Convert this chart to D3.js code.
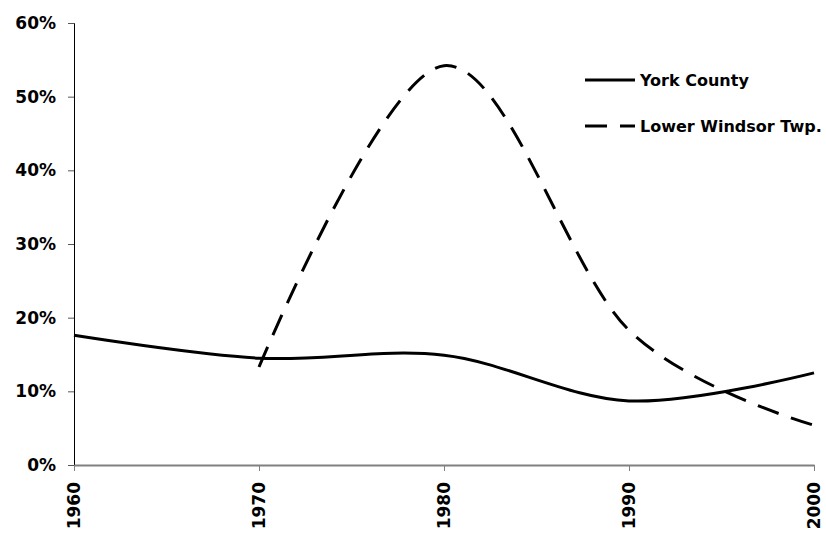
<!DOCTYPE html>
<html>
<head>
<meta charset="utf-8">
<script src="https://cdn.jsdelivr.net/npm/d3@7"></script>
<style>
  html, body { margin: 0; padding: 0; background: #fff; }
  svg { display: block; }
  text { font-family: "DejaVu Sans", sans-serif; font-weight: bold; fill: #000; }
</style>
</head>
<body>
<svg id="chart" width="826" height="534"></svg>
<script>
const years = [1960, 1970, 1980, 1990, 2000];
const yorkCounty = [0.176, 0.145, 0.149, 0.087, 0.125];
const lowerWindsorYears = [1970, 1980, 1990, 2000];
const lowerWindsor = [0.133, 0.542, 0.183, 0.054];
const yTicks = [0, 0.1, 0.2, 0.3, 0.4, 0.5, 0.6];
const seriesNames = ["York County", "Lower Windsor Twp."];

const svg = d3.select("#chart");
const x = d3.scaleLinear().domain([1960, 2000]).range([74, 814]);
const y = d3.scaleLinear().domain([0, 0.6]).range([465, 23]);

// Y axis
const yAxis = svg.append("g").attr("transform", "translate(74,0)")
  .call(d3.axisLeft(y).tickValues(yTicks).tickFormat(d3.format(".0%")).tickSize(6).tickPadding(12));
yAxis.select(".domain").attr("stroke", "#000").attr("stroke-width", 1);
yAxis.selectAll(".tick line").attr("stroke", "#555");
yAxis.selectAll("text").style("font-size", "17px").style("font-family", "'DejaVu Sans', sans-serif").style("font-weight", "bold").attr("fill", "#000");

// X axis
const xAxis = svg.append("g").attr("transform", "translate(0,465)")
  .call(d3.axisBottom(x).tickValues(years).tickFormat(d3.format("d")).tickSize(6).tickSizeOuter(0));
xAxis.select(".domain").attr("stroke", "#808080").attr("stroke-width", 2);
xAxis.selectAll(".tick line").attr("stroke", "#808080");
xAxis.selectAll("text")
  .style("font-size", "17px").style("font-family", "'DejaVu Sans', sans-serif").style("font-weight", "bold").attr("fill", "#000")
  .attr("transform", "rotate(-90)")
  .attr("text-anchor", "end")
  .attr("x", -17).attr("y", 0).attr("dy", "0.35em");

// Lines
const line = d3.line().curve(d3.curveCatmullRom.alpha(0))
  .x(d => x(d[0])).y(d => y(d[1]));

svg.append("path")
  .datum(years.map((yr, i) => [yr, yorkCounty[i]]))
  .attr("d", line)
  .attr("fill", "none").attr("stroke", "#000").attr("stroke-width", 3);

svg.append("path")
  .datum(lowerWindsorYears.map((yr, i) => [yr, lowerWindsor[i]]))
  .attr("d", line)
  .attr("fill", "none").attr("stroke", "#000").attr("stroke-width", 3)
  .attr("stroke-dasharray", "22,13");

// Legend
const legend = svg.append("g");
const legendItems = [
  { name: seriesNames[0], dash: null, yy: 80 },
  { name: seriesNames[1], dash: "22,13", yy: 126 }
];
legendItems.forEach(it => {
  legend.append("line")
    .attr("x1", 585).attr("x2", 635).attr("y1", it.yy).attr("y2", it.yy)
    .attr("stroke", "#000").attr("stroke-width", 3)
    .attr("stroke-dasharray", it.dash);
  legend.append("text")
    .attr("x", 640).attr("y", it.yy).attr("dy", "0.35em")
    .style("font-size", "16px")
    .text(it.name);
});
</script>
</body>
</html>
